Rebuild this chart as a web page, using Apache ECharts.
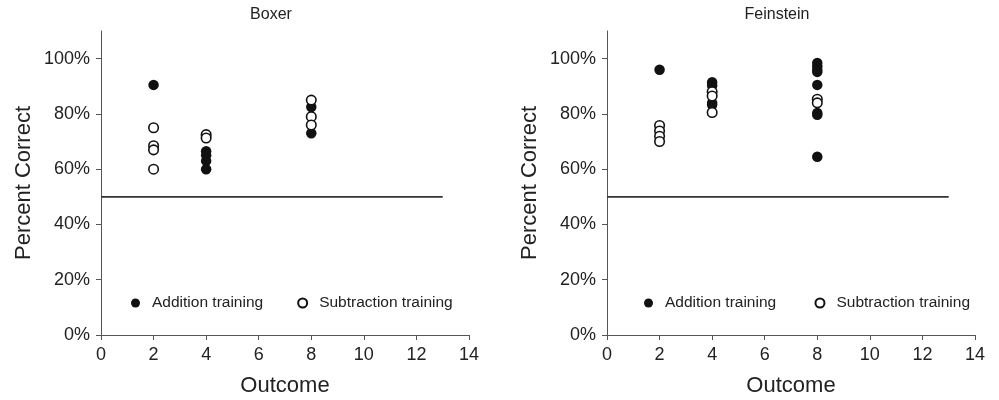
<!DOCTYPE html>
<html>
<head>
<meta charset="utf-8">
<script src="https://cdn.jsdelivr.net/npm/echarts@6/dist/echarts.min.js"></script>
<style>
  html, body { margin: 0; padding: 0; background: #fff; }
  #chart { width: 999px; height: 400px; }
</style>
</head>
<body>
<div id="chart"></div>
<script>
// Percent correct by outcome, per speaker model and training condition
const boxerAddition = [[2, 90.5], [4, 66.5], [4, 65], [4, 63], [4, 60], [8, 82.5], [8, 73]];
const boxerSubtraction = [[2, 75], [2, 68.5], [2, 67], [2, 60], [4, 72.5], [4, 71.3], [8, 85], [8, 79], [8, 76]];
const feinsteinAddition = [[2, 96], [4, 91.5], [4, 90.3], [4, 84], [4, 83.3], [8, 98.4], [8, 97.2], [8, 96], [8, 95.2], [8, 90.5], [8, 80.3], [8, 79.7], [8, 64.5]];
const feinsteinSubtraction = [[2, 75.8], [2, 73.8], [2, 71.9], [2, 70], [4, 88], [4, 86.5], [4, 80.5], [8, 85.3], [8, 84]];
const chanceLevel = [[0, 50], [13, 50]];
const percentTicks = [0, 20, 40, 60, 80, 100];
const titles = ['Boxer', 'Feinstein'];

const FONT = 'Liberation Sans, Arial, sans-serif';
const INK = '#222';
const AXIS = '#555';

// Fixed plot rectangles; labels may sit outside them freely
const grids = [
  { left: 101, right: 530, top: 31, bottom: 65, outerBoundsMode: 'none', containLabel: false },
  { left: 607, right: 24, top: 31, bottom: 65, outerBoundsMode: 'none', containLabel: false }
];

function xAxis(i) {
  return {
    gridIndex: i, type: 'value', min: 0, max: 14, interval: 2,
    name: 'Outcome', nameLocation: 'middle', nameGap: 40,
    nameTextStyle: { fontFamily: FONT, fontSize: 22, color: INK },
    axisLine: { show: true, onZero: false, lineStyle: { color: AXIS, width: 1 } },
    axisTick: { show: true, length: 5, lineStyle: { color: AXIS } },
    axisLabel: { fontFamily: FONT, fontSize: 18, color: INK, margin: 11 },
    splitLine: { show: false }
  };
}
function yAxis(i) {
  return {
    gridIndex: i, type: 'value', min: 0, max: 110,
    name: 'Percent Correct', nameLocation: 'middle', nameGap: 66,
    nameTextStyle: { fontFamily: FONT, fontSize: 22, color: INK },
    axisLine: { show: true, onZero: false, lineStyle: { color: AXIS, width: 1 } },
    axisTick: { show: true, length: 5, customValues: percentTicks, lineStyle: { color: AXIS } },
    axisLabel: { fontFamily: FONT, fontSize: 18, color: INK, margin: 11,
      customValues: percentTicks, formatter: '{value}%' },
    splitLine: { show: false }
  };
}

function filled(name, i, data) {
  return { name, type: 'scatter', xAxisIndex: i, yAxisIndex: i, data,
    symbol: 'circle', symbolSize: 10.5, itemStyle: { color: '#111', opacity: 1 }, z: 3 };
}
function open(name, i, data) {
  return { name, type: 'scatter', xAxisIndex: i, yAxisIndex: i, data,
    symbol: 'circle', symbolSize: 9.5,
    itemStyle: { color: '#fff', borderColor: '#111', borderWidth: 1.6, opacity: 1 }, z: 4 };
}
function chance(i) {
  return { type: 'line', xAxisIndex: i, yAxisIndex: i, data: chanceLevel,
    symbol: 'none', lineStyle: { color: '#333', width: 1.8 }, silent: true, z: 2 };
}

const legendBase = {
  orient: 'horizontal', itemWidth: 9, itemHeight: 9, itemGap: 34,
  textStyle: { fontFamily: FONT, fontSize: 15.5, color: INK, padding: [0, 0, 0, 7] },
  selectedMode: false
};

const option = {
  animation: false,
  backgroundColor: '#fff',
  title: [
    { text: titles[0], left: 266, top: 2, textAlign: 'center',
      textStyle: { fontFamily: FONT, fontSize: 16, fontWeight: 'normal', color: INK } },
    { text: titles[1], left: 772, top: 2, textAlign: 'center',
      textStyle: { fontFamily: FONT, fontSize: 16, fontWeight: 'normal', color: INK } }
  ],
  grid: grids,
  xAxis: [xAxis(0), xAxis(1)],
  yAxis: [yAxis(0), yAxis(1)],
  legend: [
    Object.assign({}, legendBase, { left: 126, top: 290,
      data: [{ name: 'Addition training' }, { name: 'Subtraction training' }] }),
    Object.assign({}, legendBase, { left: 639, top: 290,
      data: [{ name: 'Addition training ' }, { name: 'Subtraction training ' }] })
  ],
  series: [
    chance(0), chance(1),
    filled('Addition training', 0, boxerAddition),
    open('Subtraction training', 0, boxerSubtraction),
    filled('Addition training ', 1, feinsteinAddition),
    open('Subtraction training ', 1, feinsteinSubtraction)
  ]
};

echarts.init(document.getElementById('chart'), null, { renderer: 'canvas' }).setOption(option);
</script>
</body>
</html>
